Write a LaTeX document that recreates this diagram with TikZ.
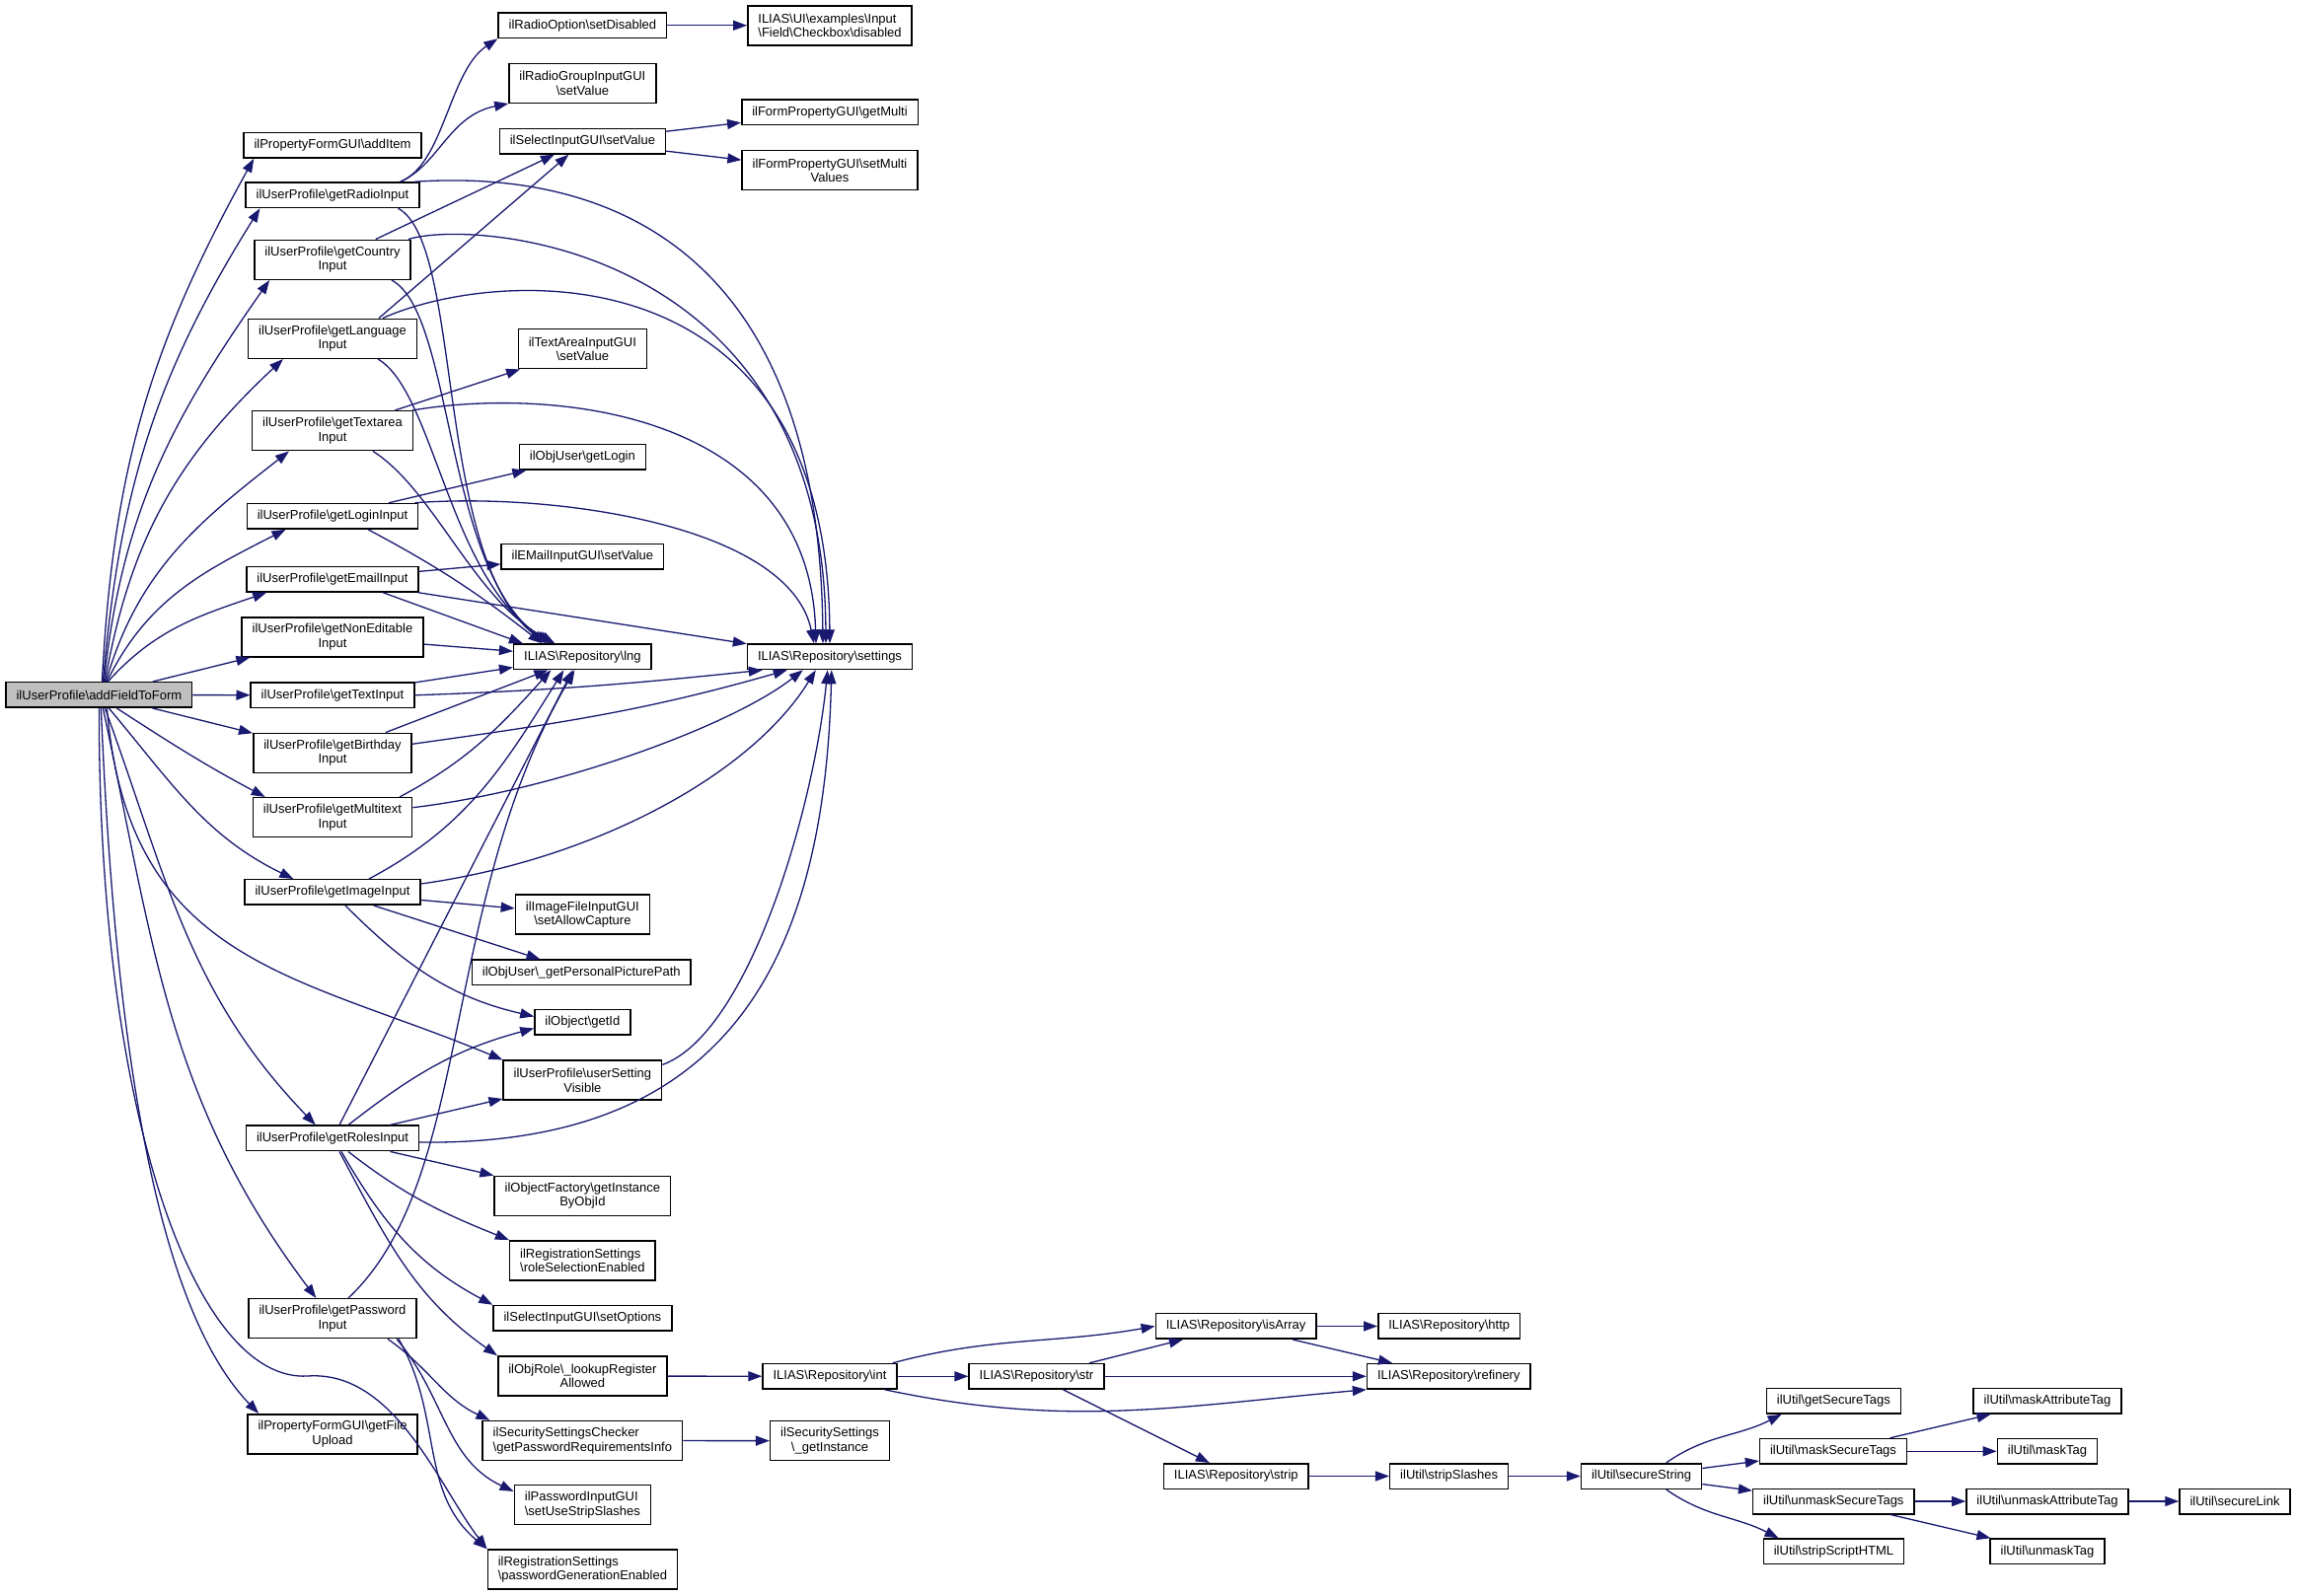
\documentclass[tikz,border=0pt]{standalone}
\usepackage{fontspec}
\setmainfont{Liberation Sans}
\usepackage{xcolor}
\usepackage{tikz}
\usetikzlibrary{arrows.meta, positioning}

\definecolor{edgeblue}{RGB}{25,25,112}
\definecolor{rootgray}{RGB}{191,191,191}
\newcommand{\bksl}{\textbackslash}

\begin{document}
\begin{tikzpicture}[x=1pt, y=1pt,
    fn/.style={draw=black, line width=1.5pt, fill=white, font=\fontsize{13}{14.4}\selectfont,
      inner xsep=10.5pt, inner ysep=2pt, minimum height=25.5pt, align=center},
    fntwo/.style={fn, minimum height=40pt},
    call/.style={draw=edgeblue, line width=1.3pt, -{Triangle[length=14pt, width=10pt]}}]
    \useasboundingbox (0,0) rectangle (2328,1617);

    % Root
    \node[fn, fill=rootgray] (root) at (100.4,912.5) {ilUserProfile\bksl addFieldToForm};

    % First level
    \node[fn] (additem) at (337,1469.7) {ilPropertyFormGUI\bksl addItem};
    \node[fn] (getradio) at (337,1419.2) {ilUserProfile\bksl getRadioInput};
    \node[fntwo] (getcountry) at (337,1353.7) {ilUserProfile\bksl getCountry\\Input};
    \node[fntwo] (getlanguage) at (337,1273.7) {ilUserProfile\bksl getLanguage\\Input};
    \node[fntwo] (gettextarea) at (337,1180.3) {ilUserProfile\bksl getTextarea\\Input};
    \node[fn] (getlogin) at (337,1093.7) {ilUserProfile\bksl getLoginInput};
    \node[fn] (getemail) at (337,1029.8) {ilUserProfile\bksl getEmailInput};
    \node[fntwo] (getnoned) at (337,971.2) {ilUserProfile\bksl getNonEditable\\Input};
    \node[fn] (gettext) at (337,912.2) {ilUserProfile\bksl getTextInput};
    \node[fntwo] (getbirthday) at (337,853.7) {ilUserProfile\bksl getBirthday\\Input};
    \node[fntwo] (getmultitext) at (337,788.3) {ilUserProfile\bksl getMultitext\\Input};
    \node[fn] (getimage) at (337,712.5) {ilUserProfile\bksl getImageInput};
    \node[fn] (getroles) at (337,463) {ilUserProfile\bksl getRolesInput};
    \node[fntwo] (getpassword) at (337,280.3) {ilUserProfile\bksl getPassword\\Input};
    \node[fntwo] (getfile) at (337,163.2) {ilPropertyFormGUI\bksl getFile\\Upload};

    % Second level
    \node[fn] (setdisabled) at (590.4,1591.2) {ilRadioOption\bksl setDisabled};
    \node[fntwo] (radiogroupset) at (590.4,1532.7) {ilRadioGroupInputGUI\\\bksl setValue};
    \node[fn] (selectset) at (590.4,1473.8) {ilSelectInputGUI\bksl setValue};
    \node[fntwo] (textareaset) at (590.4,1263.3) {ilTextAreaInputGUI\\\bksl setValue};
    \node[fn] (objgetlogin) at (590.4,1153.7) {ilObjUser\bksl getLogin};
    \node[fn] (emailset) at (590.4,1052.5) {ilEMailInputGUI\bksl setValue};
    \node[fn] (lng) at (590.4,951.2) {ILIAS\bksl Repository\bksl lng};
    \node[fntwo] (allowcapture) at (590.4,690) {ilImageFileInputGUI\\\bksl setAllowCapture};
    \node[fn] (picturepath) at (589.3,631) {ilObjUser\bksl\_getPersonalPicturePath};
    \node[fn] (getid) at (590.4,580.5) {ilObject\bksl getId};
    \node[fntwo] (usersetting) at (590.4,521.8) {ilUserProfile\bksl userSetting\\Visible};
    \node[fntwo] (getinstance) at (590.4,404.7) {ilObjectFactory\bksl getInstance\\ByObjId};
    \node[fntwo, align=left] (rolesel) at (590.4,339.2) {ilRegistrationSettings\\\bksl roleSelectionEnabled};
    \node[fn] (setoptions) at (590.4,280.7) {ilSelectInputGUI\bksl setOptions};
    \node[fntwo] (lookupreg) at (590.4,222) {ilObjRole\bksl\_lookupRegister\\Allowed};
    \node[fntwo, align=left] (pwreqinfo) at (590.4,156.5) {ilSecuritySettingsChecker\\\bksl getPasswordRequirementsInfo};
    \node[fntwo, align=left] (stripsl) at (590.4,91.3) {ilPasswordInputGUI\\\bksl setUseStripSlashes};
    \node[fntwo, align=left] (pwgen) at (590.4,26) {ilRegistrationSettings\\\bksl passwordGenerationEnabled};

    % Third level and beyond
    \node[fntwo, align=left] (cbdisabled) at (841,1591.2) {ILIAS\bksl UI\bksl examples\bksl Input\\\bksl Field\bksl Checkbox\bksl disabled};
    \node[fn] (getmulti) at (841,1503.2) {ilFormPropertyGUI\bksl getMulti};
    \node[fntwo] (setmultivalues) at (841,1444.3) {ilFormPropertyGUI\bksl setMulti\\Values};
    \node[fn] (settings) at (841,951.2) {ILIAS\bksl Repository\bksl settings};
    \node[fn] (repoint) at (841,221.7) {ILIAS\bksl Repository\bksl int};
    \node[fntwo] (secinstance) at (841,156.3) {ilSecuritySettings\\\bksl\_getInstance};
    \node[fn] (repostr) at (1050.5,221.7) {ILIAS\bksl Repository\bksl str};
    \node[fn] (isarray) at (1252.6,272.5) {ILIAS\bksl Repository\bksl isArray};
    \node[fn] (repostrip) at (1252.8,120.5) {ILIAS\bksl Repository\bksl strip};
    \node[fn] (http) at (1468.7,272.5) {ILIAS\bksl Repository\bksl http};
    \node[fn] (refinery) at (1468.3,221.7) {ILIAS\bksl Repository\bksl refinery};
    \node[fn] (stripslashes) at (1468.7,120.5) {ilUtil\bksl stripSlashes};
    \node[fn] (securestring) at (1663.6,120.5) {ilUtil\bksl secureString};
    \node[fn] (getsecuretags) at (1858.3,196.7) {ilUtil\bksl getSecureTags};
    \node[fn] (masksecuretags) at (1858,145.7) {ilUtil\bksl maskSecureTags};
    \node[fn] (unmasksecuretags) at (1858.3,95) {ilUtil\bksl unmaskSecureTags};
    \node[fn] (stripscripthtml) at (1858.5,44.2) {ilUtil\bksl stripScriptHTML};
    \node[fn] (maskattributetag) at (2075,196.7) {ilUtil\bksl maskAttributeTag};
    \node[fn] (masktag) at (2075,145.7) {ilUtil\bksl maskTag};
    \node[fn] (unmaskattributetag) at (2075,95) {ilUtil\bksl unmaskAttributeTag};
    \node[fn] (unmasktag) at (2075,44.2) {ilUtil\bksl unmaskTag};
    \node[fn] (securelink) at (2265,95) {ilUtil\bksl secureLink};

    % Calls from addFieldToForm
    \draw[call] ([xshift=3pt]root.north) to[out=87, in=241] ([xshift=11pt]additem.south west);
    \draw[call] ([xshift=4pt]root.north) to[out=85, in=238] ([xshift=15pt]getradio.south west);
    \draw[call] ([xshift=5pt]root.north) to[out=84, in=235] ([xshift=16pt]getcountry.south west);
    \draw[call] ([xshift=6pt]root.north) to[out=80, in=223] ([xshift=36pt]getlanguage.south west);
    \draw[call] ([xshift=7pt]root.north) to[out=74, in=218] ([xshift=38pt]gettextarea.south west);
    \draw[call] ([xshift=8pt]root.north) to[out=64, in=207] ([xshift=40pt]getlogin.south west);
    \draw[call] ([xshift=9pt]root.north) to[out=48, in=199] ([xshift=21pt]getemail.south west);
    \draw[call] (root) -- (getnoned);
    \draw[call] (root) -- (gettext);
    \draw[call] (root) -- (getbirthday);
    \draw[call] ([xshift=18pt]root.south) to[out=-33, in=152] ([xshift=13pt]getmultitext.north west);
    \draw[call] ([xshift=10pt]root.south) to[out=-50, in=154] ([xshift=50pt]getimage.north west);
    \draw[call] ([xshift=8pt]root.south) .. controls (130,640) and (300,630) .. (usersetting.north west);
    \draw[call] ([xshift=6pt]root.south) to[out=-70, in=134] ([xshift=71pt]getroles.north west);
    \draw[call] ([xshift=4pt]root.south) to[out=-78, in=127] ([xshift=69pt]getpassword.north west);
    \draw[call] ([xshift=2pt]root.south) .. controls (115,600) and (150,300) .. ([xshift=12pt]getfile.north west);
    \draw[call] (root.south) .. controls (100,480) and (200,215) .. (312,222) .. controls (400,228) and (445,110) .. (pwgen.north west);

    % getRadioInput, getCountryInput, getLanguageInput
    \draw[call] ([xshift=-20pt]getradio.north east) .. controls (450,1450) and (455,1545) .. (setdisabled.south west);
    \draw[call] ([xshift=-20pt]getradio.north east) .. controls (445,1450) and (455,1500) .. (radiogroupset.south west);
    \draw[call] ([xshift=-6pt]getradio.north east) .. controls (600,1445) and (830,1380) .. ([xshift=-7pt]settings.north);
    \draw[call] ([xshift=-22pt]getradio.south east) .. controls (470,1370) and (440,1050) .. ([xshift=-37pt]lng.north);
    \draw[call] (getcountry) -- (selectset);
    \draw[call] ([xshift=-3pt]getcountry.north east) .. controls (480,1395) and (835,1370) .. ([xshift=-4pt]settings.north);
    \draw[call] ([xshift=-20pt]getcountry.south east) .. controls (460,1300) and (450,1040) .. ([xshift=-34pt]lng.north);
    \draw[call] ([xshift=47pt]getlanguage.north) -- ([xshift=-14pt]selectset.south);
    \draw[call] ([xshift=51pt]getlanguage.north) .. controls (500,1345) and (838,1370) .. (settings.north);
    \draw[call] ([xshift=46pt]getlanguage.south) .. controls (440,1220) and (455,1030) .. ([xshift=-31pt]lng.north);

    % getTextareaInput, getLoginInput, getEmailInput
    \draw[call] (gettextarea) -- (textareaset);
    \draw[call] ([xshift=-1pt]gettextarea.north east) .. controls (560,1225) and (820,1200) .. ([xshift=-14pt]settings.north);
    \draw[call] ([xshift=41pt]gettextarea.south) .. controls (440,1120) and (480,1010) .. ([xshift=-28pt]lng.north);
    \draw[call] (getlogin) -- (objgetlogin);
    \draw[call] ([xshift=-4pt]getlogin.north east) .. controls (560,1118) and (800,1085) .. ([xshift=-16pt]settings.north);
    \draw[call] ([xshift=36pt]getlogin.south) to[out=-28, in=142] ([xshift=-41pt]lng.north);
    \draw[call] (getemail) -- (emailset);
    \draw[call] (getemail) -- (settings);
    \draw[call] ([xshift=51pt]getemail.south) -- ([xshift=10pt]lng.north west);

    % getNonEditable, getText, getBirthday, getMultitext
    \draw[call] (getnoned) -- (lng);
    \draw[call] (gettext) -- (lng);
    \draw[call] (gettext.east) to[out=2, in=186] ([xshift=16pt]settings.south west);
    \draw[call] (getbirthday) -- (lng);
    \draw[call] ([yshift=9pt]getbirthday.east) to[out=8, in=196] ([xshift=41pt]settings.south west);
    \draw[call] ([xshift=68pt]getmultitext.north) to[out=28, in=228] ([xshift=-32pt]lng.south);
    \draw[call] ([yshift=10pt]getmultitext.east) .. controls (560,815) and (740,880) .. ([xshift=57pt]settings.south west);

    % getImageInput
    \draw[call] ([xshift=37pt]getimage.north) to[out=28, in=238] ([xshift=-19pt]lng.south);
    \draw[call] ([yshift=-5pt]getimage.north east) .. controls (600,745) and (760,830) .. ([xshift=70pt]settings.south west);
    \draw[call] (getimage) -- (allowcapture);
    \draw[call] (getimage) -- (picturepath);
    \draw[call] ([xshift=13pt]getimage.south) to[out=-45, in=167] ([yshift=6pt]getid.west);

    % getRolesInput and userSettingVisible
    \draw[call] ([xshift=7pt]getroles.north) -- ([xshift=-10pt]lng.south);
    \draw[call] ([xshift=16pt]getroles.north) to[out=38, in=195] ([yshift=-6pt]getid.west);
    \draw[call] (getroles) -- (usersetting);
    \draw[call] ([yshift=-4pt]getroles.east) .. controls (720,455) and (835,620) .. ([xshift=86pt]settings.south west);
    \draw[call] (getroles) -- (getinstance);
    \draw[call] ([xshift=16pt]getroles.south) to[out=-38, in=158] (rolesel.north west);
    \draw[call] ([xshift=9pt]getroles.south) to[out=-60, in=152] (setoptions.north west);
    \draw[call] ([xshift=7pt]getroles.south) to[out=-62, in=145] (lookupreg.north west);
    \draw[call] ([yshift=-5pt]usersetting.north east) .. controls (760,570) and (825,800) .. ([xshift=82pt]settings.south west);

    % getPasswordInput
    \draw[call] ([xshift=16pt]getpassword.north) .. controls (480,420) and (445,700) .. ([xshift=-8pt]lng.south);
    \draw[call] ([xshift=56pt]getpassword.south) to[out=-35, in=155] ([xshift=8pt]pwreqinfo.north west);
    \draw[call] ([xshift=65pt]getpassword.south) to[out=-50, in=155] ([yshift=-7pt]stripsl.north west);
    \draw[call] ([xshift=67pt]getpassword.south) to[out=-60, in=140] (pwgen.north west);

    % Deeper calls
    \draw[call] (setdisabled) -- (cbdisabled);
    \draw[call] (selectset) -- (getmulti);
    \draw[call] (selectset) -- (setmultivalues);
    \draw[call] (lookupreg) -- (repoint);
    \draw[call] (pwreqinfo) -- (secinstance);
    \draw[call] ([xshift=-5pt]repoint.north east) to[out=15, in=190] (isarray.west);
    \draw[call] (repoint) -- (repostr);
    \draw[call] ([xshift=-13pt]repoint.south east) to[out=-12, in=185] (refinery.south west);
    \draw[call] (repostr) -- (isarray);
    \draw[call] (repostr) -- (refinery);
    \draw[call] (repostr) -- (repostrip);
    \draw[call] (isarray) -- (http);
    \draw[call] (isarray) -- (refinery);
    \draw[call] (repostrip) -- (stripslashes);
    \draw[call] (stripslashes) -- (securestring);
    \draw[call] ([xshift=25pt]securestring.north) to[out=35, in=207] ([xshift=16pt]getsecuretags.south west);
    \draw[call] (securestring) -- (masksecuretags);
    \draw[call] (securestring) -- (unmasksecuretags);
    \draw[call] ([xshift=25pt]securestring.south) to[out=-35, in=153] ([xshift=16pt]stripscripthtml.north west);
    \draw[call] (masksecuretags) -- (maskattributetag);
    \draw[call] (masksecuretags) -- (masktag);
    \draw[call] (unmasksecuretags) -- (unmaskattributetag);
    \draw[call] (unmasksecuretags) -- (unmasktag);
    \draw[call] (unmaskattributetag) -- (securelink);
\end{tikzpicture}
\end{document}
